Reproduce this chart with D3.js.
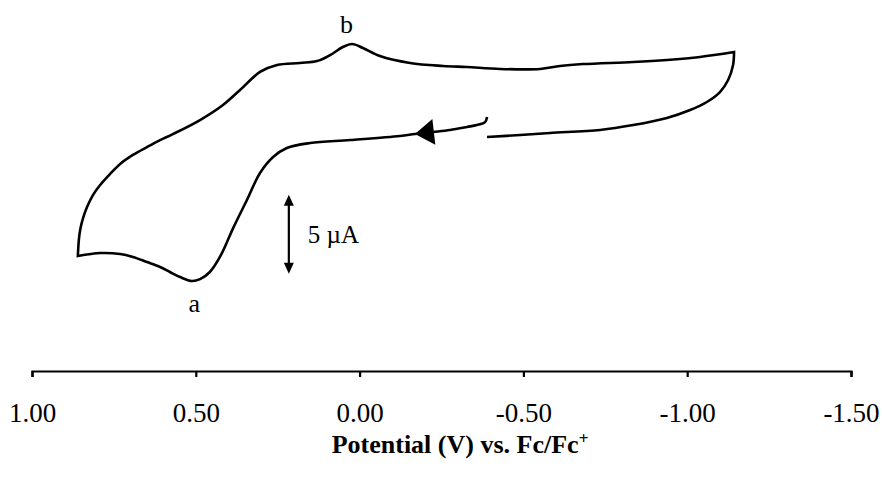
<!DOCTYPE html>
<html>
<head>
<meta charset="utf-8">
<script src="https://cdn.jsdelivr.net/npm/d3@7"></script>
<style>
  html, body { margin: 0; padding: 0; background: #fff; }
  svg { display: block; }
  text { font-family: "Liberation Serif", "Times New Roman", serif; fill: #000; }
</style>
</head>
<body>
<svg id="chart" width="882" height="479"></svg>
<script>
// Potential (V vs Fc/Fc+) along the scan, in order
const potential = [
  -0.389, -0.383, -0.358, -0.328, -0.276, -0.224, -0.169, -0.123, 0.029, 0.151, 0.222,
  0.264, 0.304, 0.344, 0.386, 0.423, 0.457, 0.487, 0.512, 0.548, 0.579, 0.609, 0.649, 0.692,
  0.731, 0.792, 0.860,
  0.857, 0.853, 0.844, 0.832, 0.814, 0.792, 0.762, 0.731, 0.692, 0.649, 0.609, 0.570, 0.487,
  0.417, 0.365, 0.304, 0.252, 0.182, 0.130, 0.090, 0.051, 0.023, -0.010, -0.062, -0.154,
  -0.255, -0.328, -0.429, -0.551, -0.612, -0.682, -0.835, -0.938, -1.039, -1.143,
  -1.140, -1.125, -1.100, -1.060, -1.009, -0.938, -0.835, -0.734, -0.581, -0.490, -0.389
];
// Current (µA, arbitrary offset) at each potential
const current = [
  4.62, 4.30, 4.11, 3.99, 3.80, 3.67, 3.54, 3.42, 3.16, 2.97, 2.66,
  2.09, 1.08, -0.63, -2.41, -4.11, -5.19, -5.64, -5.76, -5.51, -5.19, -4.87, -4.56, -4.24,
  -4.05, -3.99, -4.18,
  -3.16, -2.53, -1.77, -1.08, -0.32, 0.32, 1.01, 1.65, 2.22, 2.72, 3.16, 3.54, 4.43,
  5.38, 6.33, 7.47, 7.91, 8.04, 8.16, 8.54, 9.05, 9.24, 8.99, 8.48, 8.04,
  7.85, 7.78, 7.66, 7.66, 7.85, 7.97, 8.10, 8.23, 8.42, 8.73,
  7.91, 6.96, 6.20, 5.57, 5.06, 4.56, 4.11, 3.80, 3.61, 3.48, 3.35
];
// indices of the sharp switching points of the scan
const switchIndices = [26, 61];
const tickValues = [1.0, 0.5, 0.0, -0.5, -1.0, -1.5];
const tickLabels = ["1.00", "0.50", "0.00", "-0.50", "-1.00", "-1.50"];
const xDomain = [1.0, -1.5];
// scan direction arrow (index into the scan) and scale bar
const arrowIndex = 6;
const scaleBarPotential = [0.216];
const scaleBarCurrent = [-5.3, -0.3];
const scaleBarLabel = "5 \u00B5A";
const peakLabels = [
  { name: "a", potential: 0.505, current: -7.7 },
  { name: "b", potential: 0.04, current: 9.95 }
];
const axisTitle = "Potential (V) vs. Fc/Fc";

const svg = d3.select("#chart");

const x = d3.scaleLinear().domain(xDomain).range([32, 851]);
const y = d3.scaleLinear().domain([0, 5]).range([190, 190 - 79]);

// CV trace, drawn as smooth pieces between the switching points
const pts = potential.map((p, i) => [p, current[i]]);
const line = d3.line()
  .x(d => x(d[0]))
  .y(d => y(d[1]))
  .curve(d3.curveCatmullRom.alpha(0.5));
const bounds = [0, ...switchIndices, pts.length - 1];
let dStr = "";
for (let k = 0; k < bounds.length - 1; k++) {
  const seg = pts.slice(bounds[k], bounds[k + 1] + 1);
  const sd = line(seg);
  dStr += k === 0 ? sd : sd.replace(/^M[^A-Za-z]*/, "");
}
svg.append("path")
  .attr("d", dStr)
  .attr("fill", "none")
  .attr("stroke", "#000")
  .attr("stroke-width", 2.6)
  .attr("stroke-linejoin", "miter")
  .attr("stroke-linecap", "butt");

// direction arrow head
{
  const p = pts[arrowIndex], q = pts[arrowIndex - 1];
  const tx = x(p[0]), ty = y(p[1]);
  let dx = tx - x(q[0]), dy = ty - y(q[1]);
  const len = Math.hypot(dx, dy); dx /= len; dy /= len;
  const L = 19, W = 13;
  const bx = tx - dx * L, by = ty - dy * L;
  const nx = -dy, ny = dx;
  svg.append("path")
    .attr("d", `M${tx},${ty}L${bx + nx * W},${by + ny * W}L${bx - nx * W},${by - ny * W}Z`)
    .attr("fill", "#000");
}

// scale bar
{
  const sx = x(scaleBarPotential[0]);
  const y0 = y(scaleBarCurrent[0]), y1 = y(scaleBarCurrent[1]);
  const ah = 11, aw = 5;
  svg.append("line")
    .attr("x1", sx).attr("x2", sx)
    .attr("y1", y1 + ah - 1).attr("y2", y0 - ah + 1)
    .attr("stroke", "#000").attr("stroke-width", 2.2);
  svg.append("path")
    .attr("d", `M${sx},${y1}L${sx + aw},${y1 + ah}L${sx - aw},${y1 + ah}Z`)
    .attr("fill", "#000");
  svg.append("path")
    .attr("d", `M${sx},${y0}L${sx + aw},${y0 - ah}L${sx - aw},${y0 - ah}Z`)
    .attr("fill", "#000");
  svg.append("text")
    .attr("x", sx + 19)
    .attr("y", (y0 + y1) / 2 + 9)
    .attr("font-size", 25)
    .text(scaleBarLabel);
}

// peak labels
svg.selectAll("text.peak")
  .data(peakLabels)
  .join("text")
  .attr("class", "peak")
  .attr("x", d => x(d.potential))
  .attr("y", d => y(d.current))
  .attr("text-anchor", "middle")
  .attr("font-size", 26)
  .text(d => d.name);

// x axis
const axis = d3.axisBottom(x)
  .tickValues(tickValues)
  .tickSize(6)
  .tickSizeOuter(6)
  .tickFormat((d, i) => tickLabels[i]);

const gx = svg.append("g")
  .attr("transform", "translate(0,371)")
  .call(axis);
gx.select(".domain").attr("stroke", "#000").attr("stroke-width", 2.2);
gx.selectAll(".tick line").attr("stroke", "#000").attr("stroke-width", 2.2);
gx.selectAll(".tick text")
  .attr("font-family", "Liberation Serif, Times New Roman, serif")
  .attr("font-size", 27)
  .attr("fill", "#000")
  .attr("y", 51)
  .attr("dy", null);

// axis title
const title = svg.append("text")
  .attr("x", 460)
  .attr("y", 453)
  .attr("text-anchor", "middle")
  .attr("font-size", 26)
  .attr("font-weight", "bold");
title.append("tspan").text(axisTitle);
title.append("tspan")
  .attr("dy", -9)
  .attr("font-size", 17)
  .text("+");
</script>
</body>
</html>
